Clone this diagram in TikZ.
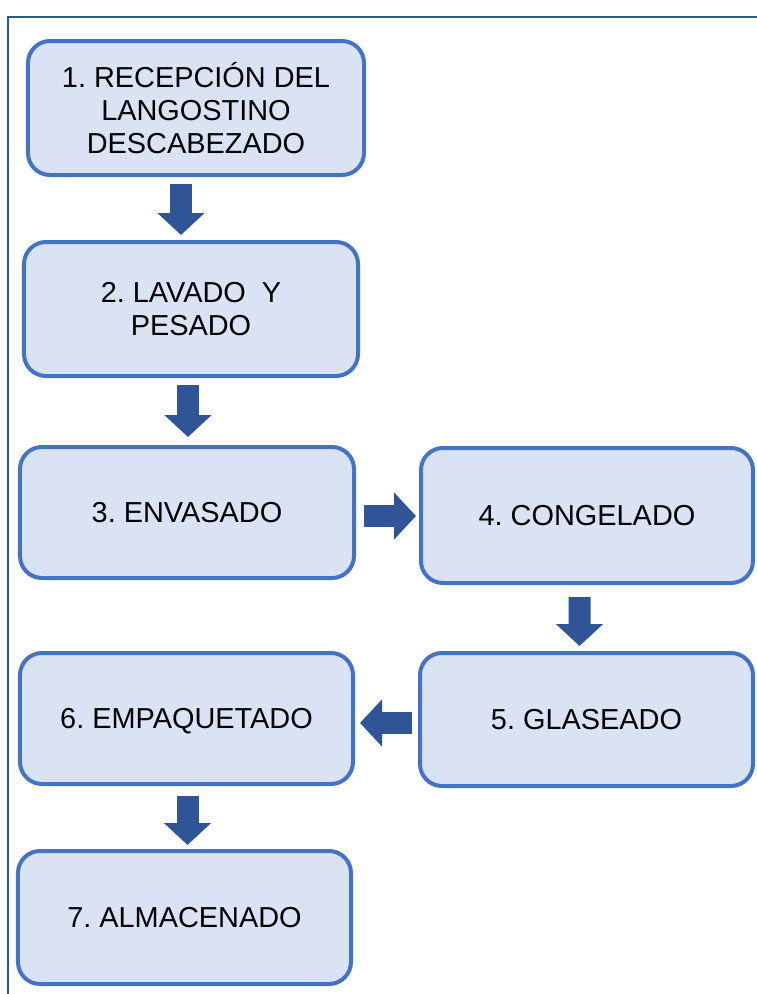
\documentclass[tikz,border=0pt]{standalone}
\usepackage{fontspec}
\setmainfont{Liberation Sans}
\frenchspacing
\usetikzlibrary{arrows.meta,calc}
\definecolor{boxfill}{HTML}{DAE3F3}
\definecolor{boxline}{HTML}{4472C4}
\definecolor{arrowblue}{HTML}{2F5597}
\tikzset{
  stepbox/.style={draw=boxline, fill=boxfill, line width=4bp, rounded corners=22bp,
    rectangle, align=center, inner sep=0pt, font=\fontsize{29}{33}\selectfont},
  bigarrow/.style={draw=arrowblue, line width=22bp, line cap=butt,
    -{Triangle[width=46bp,length=22bp,fill=arrowblue]}},
}
\begin{document}
\begin{tikzpicture}[x=1bp,y=-1bp]
\useasboundingbox (0,0) rectangle (757,994);
\fill[white] (0,0) rectangle (757,994);
\draw[arrowblue, line width=2bp] (8,994) -- (8,17) -- (757,17);

\node[stepbox, minimum width=336bp, minimum height=134bp] (b1) at (196,108)
  {1. RECEPCIÓN DEL\\LANGOSTINO\\DESCABEZADO};
\node[stepbox, minimum width=334bp, minimum height=134bp] (b2) at (191,309)
  {2. LAVADO\ \ Y\\PESADO};
\node[stepbox, minimum width=334bp, minimum height=131bp, text depth=0pt] (b3) at (187,512.5)
  {3. ENVASADO};
\node[stepbox, minimum width=332bp, minimum height=135bp, text depth=0pt] (b4) at (587,515.5)
  {4. CONGELADO};
\node[stepbox, minimum width=333bp, minimum height=133bp, text depth=0pt] (b5) at (586.5,719.5)
  {5. GLASEADO};
\node[stepbox, minimum width=333bp, minimum height=131bp, text depth=0pt] (b6) at (186.5,718.5)
  {6. EMPAQUETADO};
\node[stepbox, minimum width=333bp, minimum height=133bp, text depth=0pt] (b7) at (184.5,917.5)
  {7. ALMACENADO};

\draw[bigarrow] ([shift={(-15,7)}]b1.south) -- ([shift={(-10,-5)}]b2.north);
\draw[bigarrow] ([shift={(-3,7)}]b2.south) -- ([shift={(1,-8)}]b3.north);
\draw[bigarrow] ([shift={(8,3.5)}]b3.east) -- ([shift={(-3,0.5)}]b4.west);
\draw[bigarrow] ([shift={(-7.5,12)}]b4.south) -- ([shift={(-7,-5)}]b5.north);
\draw[bigarrow] ([shift={(-6,3.5)}]b5.west) -- ([shift={(5,4.5)}]b6.east);
\draw[bigarrow] ([shift={(1,10)}]b6.south) -- ([shift={(3,-4)}]b7.north);
\end{tikzpicture}
\end{document}
